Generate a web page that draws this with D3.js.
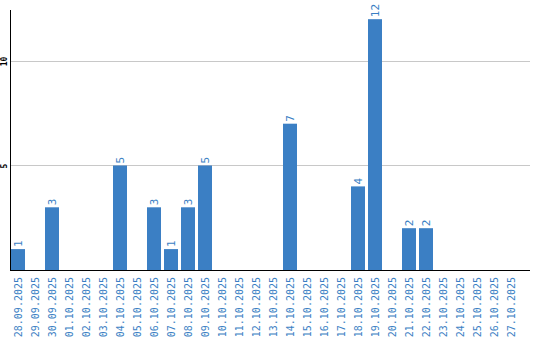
<!DOCTYPE html>
<html>
<head>
<meta charset="utf-8">
<script src="https://cdn.jsdelivr.net/npm/d3@7"></script>
<style>
  body { margin: 0; background: #fff; }
  svg { display: block; }
</style>
</head>
<body>
<svg width="540" height="340"></svg>
<script>
const dates = ['28.09.2025','29.09.2025','30.09.2025','01.10.2025','02.10.2025','03.10.2025',
    '04.10.2025','05.10.2025','06.10.2025','07.10.2025','08.10.2025','09.10.2025','10.10.2025',
    '11.10.2025','12.10.2025','13.10.2025','14.10.2025','15.10.2025','16.10.2025','17.10.2025',
    '18.10.2025','19.10.2025','20.10.2025','21.10.2025','22.10.2025','23.10.2025','24.10.2025',
    '25.10.2025','26.10.2025','27.10.2025'];
const counts = [1,0,3,0,0,0,5,0,3,1,3,5,0,0,0,0,7,0,0,0,4,12,0,2,2,0,0,0,0,0];
const yTicks = [5, 10];

const blue = '#3b7fc4';
const svg = d3.select('svg');

const x = d3.scaleBand()
    .domain(dates)
    .range([11, 518])
    .paddingInner(3/17)
    .paddingOuter(0)
    .align(0);

const y = d3.scaleLinear()
    .domain([0, 12.44])
    .range([270, 10]);

// grid lines
svg.append('g').selectAll('line')
    .data(yTicks)
    .join('line')
    .attr('x1', 10.5).attr('x2', 530)
    .attr('y1', d => Math.round(y(d)) + 0.5)
    .attr('y2', d => Math.round(y(d)) + 0.5)
    .attr('stroke', '#c8c8c8');

// bars
const data = dates.map((d, i) => ({date: d, value: counts[i]}));
svg.append('g').selectAll('rect')
    .data(data.filter(d => d.value > 0))
    .join('rect')
    .attr('x', d => x(d.date))
    .attr('y', d => y(d.value))
    .attr('width', x.bandwidth())
    .attr('height', d => y(0) - y(d.value))
    .attr('fill', blue);

// value labels
svg.append('g').selectAll('text')
    .data(data.filter(d => d.value > 0))
    .join('text')
    .attr('transform', d => `translate(${x(d.date) + x.bandwidth() / 2},${y(d.value) - 2}) rotate(-90)`)
    .attr('dy', '0.35em')
    .attr('font-family', 'DejaVu Sans Mono, monospace')
    .attr('font-size', 11)
    .attr('fill', blue)
    .text(d => d.value);

// x axis
const xAxis = svg.append('g')
    .attr('transform', 'translate(0,270)')
    .call(d3.axisBottom(x).tickSize(0).tickPadding(0));
xAxis.select('.domain').remove();
xAxis.selectAll('text')
    .attr('transform', 'translate(0,7) rotate(-90)')
    .attr('x', 0).attr('y', 0)
    .attr('dy', '0.35em')
    .attr('text-anchor', 'end')
    .attr('font-family', 'DejaVu Sans Mono, monospace')
    .attr('font-size', 10)
    .attr('fill', blue);
svg.append('line')
    .attr('x1', 10).attr('x2', 530)
    .attr('y1', 270.5).attr('y2', 270.5)
    .attr('stroke', '#000').attr('stroke-width', 1);

// y axis
const yAxis = svg.append('g')
    .attr('transform', 'translate(10.5,0)')
    .call(d3.axisLeft(y).tickValues(yTicks).tickSize(0).tickPadding(0));
yAxis.select('.domain').remove();
yAxis.selectAll('text')
    .attr('transform', 'translate(-4,0) rotate(-90)')
    .attr('x', 0).attr('y', 0)
    .attr('dy', 0)
    .attr('text-anchor', 'middle')
    .attr('font-family', 'DejaVu Sans Mono, monospace')
    .attr('font-size', 8)
    .attr('font-weight', 'bold')
    .attr('fill', '#000');
svg.append('line')
    .attr('x1', 10.5).attr('x2', 10.5)
    .attr('y1', 10).attr('y2', 271)
    .attr('stroke', '#000').attr('stroke-width', 1);
</script>
</body>
</html>
